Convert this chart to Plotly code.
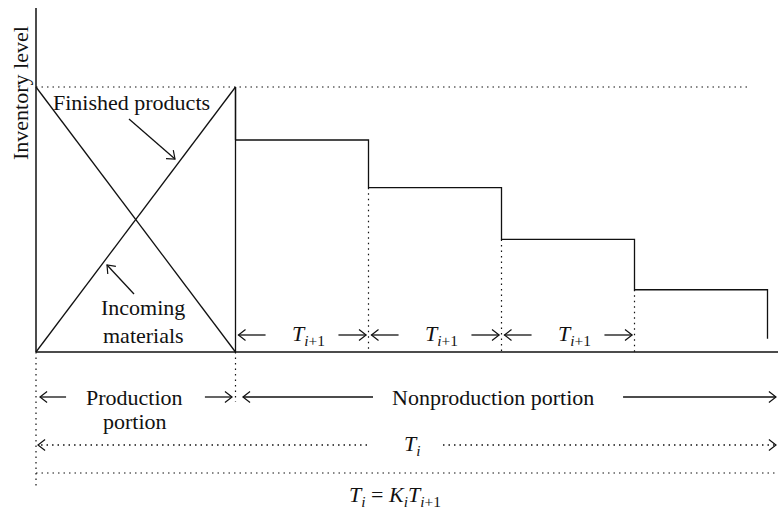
import math
import plotly.graph_objects as go

# ---------------- data (time units: T_{i+1} = 1, inventory peak = 1) ----------------
production_time = 1.5                      # end of production portion
period = 1.0                               # T_{i+1}
step_starts = [1.5, 2.5, 3.5, 4.5]         # start of each delivery period
step_levels = [0.80, 0.62, 0.425, 0.235]  # inventory after each delivery
end_time = 5.5
end_level = 0.05
peak_level = 1.0
finished_x = [0, production_time]
finished_y = [0, peak_level]
incoming_x = [0, production_time]
incoming_y = [peak_level, 0]

# pixel scale of the drawing (used for arrowhead geometry and axis range)
SX, SY = 133.0, 265.0
X0PX, Y0PX = 36.0, 352.0
W, H = 778, 510
XR = [-X0PX / SX, (W - X0PX) / SX]
YR = [(Y0PX - H) / SY, Y0PX / SY]

INK = "#111111"
FONT = "Liberation Serif"
FS = 22
DOT = "1.5px,4px"

fig = go.Figure()


def line(xs, ys, dash="solid", width=1.3):
    fig.add_trace(go.Scatter(x=xs, y=ys, mode="lines",
                             line=dict(color=INK, width=width, dash=dash),
                             hoverinfo="skip", showlegend=False))


def arrow(x0, y0, x1, y1, dash="solid", head=9.0, ang=38.0):
    line([x0, x1], [y0, y1], dash=dash)
    dx, dy = (x1 - x0) * SX, (y1 - y0) * SY
    n = math.hypot(dx, dy)
    ux, uy = dx / n, dy / n
    hx, hy = [], []
    for s in (1, -1):
        a = math.radians(ang) * s
        rx = ux * math.cos(a) - uy * math.sin(a)
        ry = ux * math.sin(a) + uy * math.cos(a)
        hx.append(x1 - head * rx / SX)
        hy.append(y1 - head * ry / SY)
    line([hx[0], x1, hx[1]], [hy[0], y1, hy[1]], width=1.2)


def text(x, y, s, size=FS, angle=0):
    fig.add_annotation(x=x, y=y, text=s, showarrow=False, textangle=angle,
                       xanchor="center", yanchor="middle",
                       font=dict(family=FONT, size=size, color=INK))


# axes
line([0, 0], [YR[1] - 8 / SY, 0], width=1.5)
line([0, XR[1]], [0, 0], width=1.5)
# top dotted reference
line([0, (747 - X0PX) / SX], [peak_level, peak_level], dash=DOT, width=1.2)

# production portion
line(finished_x, finished_y)
line(incoming_x, incoming_y)
line([production_time, production_time], [0, peak_level])

# step profile
sx, sy = [], []
for i, (t, lv) in enumerate(zip(step_starts, step_levels)):
    sx += [t, t + period]
    sy += [lv, lv]
    if i + 1 < len(step_levels):
        sx.append(t + period)
        sy.append(step_levels[i + 1])
sx.append(end_time)
sy.append(end_level)
line(sx, sy)
line([production_time, production_time], [peak_level, step_levels[0]])

# dotted verticals at period boundaries
for t, lv in zip(step_starts[1:], step_levels[1:]):
    line([t, t], [lv, 0], dash=DOT, width=1.2)
line([0, 0], [0, (Y0PX - 487) / SY], dash=DOT, width=1.2)
line([production_time, production_time], [0, (Y0PX - 402) / SY], dash=DOT, width=1.2)

# T_{i+1} arrows
ya = (Y0PX - 335) / SY
for t in step_starts[:3]:
    arrow(t + 0.226, ya, t + 0.022, ya)
    arrow(t + 0.774, ya, t + 0.982, ya)
    text(t + 0.55, ya, "<i>T</i><sub><i>i</i>+1</sub>")

# production / nonproduction row
yp = (Y0PX - 397) / SY
arrow(0.226, yp, 0.03, yp)
arrow(1.27, yp, 1.474, yp)
text(0.744, yp, "Production")
text(0.744, (Y0PX - 421) / SY, "portion")
arrow(2.534, yp, 1.556, yp)
arrow(4.414, yp, XR[1] - 2 / SX, yp)
text(3.436, yp, "Nonproduction portion")

# T_i row
yt = (Y0PX - 445) / SY
arrow(2.489, yt, 0.015, yt, dash=DOT)
arrow(3.06, yt, XR[1] - 2 / SX, yt, dash=DOT)
text(2.83, yt, "<i>T<sub>i</sub></i>")

# bottom dotted line and relation
yb = (Y0PX - 473) / SY
line([0, XR[1]], [yb, yb], dash=DOT, width=1.2)
text((395 - X0PX) / SX, (Y0PX - 496) / SY,
     "<i>T<sub>i</sub></i> = <i>K<sub>i</sub></i><i>T</i><sub><i>i</i>+1</sub>")

# labels with pointer arrows
text((131 - X0PX) / SX, (Y0PX - 102) / SY, "Finished products")
arrow((129 - X0PX) / SX, (Y0PX - 119) / SY, (175 - X0PX) / SX, (Y0PX - 159) / SY)
text((143 - X0PX) / SX, (Y0PX - 307) / SY, "Incoming")
text((143 - X0PX) / SX, (Y0PX - 335) / SY, "materials")
arrow((134 - X0PX) / SX, (Y0PX - 294) / SY, (107 - X0PX) / SX, (Y0PX - 265) / SY)

text((20 - X0PX) / SX, (Y0PX - 93) / SY, "Inventory level", angle=-90)

fig.update_layout(
    width=W, height=H, margin=dict(l=0, r=0, t=0, b=0),
    paper_bgcolor="white", plot_bgcolor="white",
    xaxis=dict(range=XR, visible=False, fixedrange=True),
    yaxis=dict(range=YR, visible=False, fixedrange=True),
    showlegend=False,
)
fig.write_html("out.html", config={"displayModeBar": False},
               post_script="document.body.style.margin='0';document.body.style.overflow='hidden';")
